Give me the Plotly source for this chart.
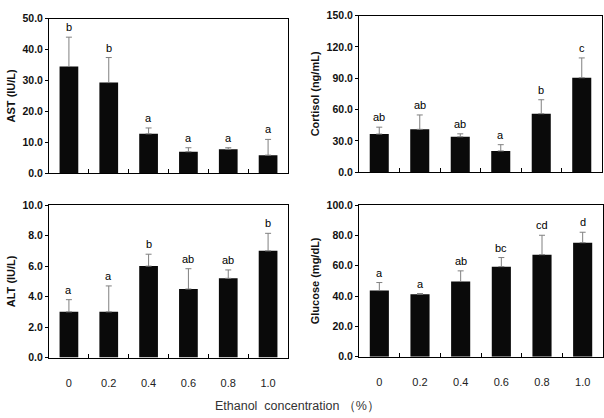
import plotly.graph_objects as go

categories = ["0", "0.2", "0.4", "0.6", "0.8", "1.0"]

ast_mean = [34.5, 29.3, 12.7, 6.9, 7.7, 5.8]
ast_err = [9.5, 8.1, 1.9, 1.3, 0.5, 5.1]
ast_letters = ["b", "b", "a", "a", "a", "a"]

cortisol_mean = [36.5, 41.0, 33.9, 20.3, 56.0, 90.5]
cortisol_err = [6.6, 13.8, 2.8, 6.0, 13.4, 19.0]
cortisol_letters = ["ab", "ab", "ab", "a", "b", "c"]

alt_mean = [3.0, 3.0, 6.0, 4.5, 5.2, 7.0]
alt_err = [0.8, 1.7, 0.78, 1.33, 0.55, 1.15]
alt_letters = ["a", "a", "b", "ab", "ab", "b"]

glucose_mean = [43.6, 41.2, 49.6, 59.4, 67.3, 75.2]
glucose_err = [5.3, 0.4, 7.0, 6.0, 12.8, 6.9]
glucose_letters = ["a", "a", "ab", "bc", "cd", "d"]

W, H = 604, 418
FONT = "Liberation Sans, Arial, sans-serif"

panels = [
    (ast_mean, ast_err, ast_letters, "AST (IU/L)", 50, 10, (49, 288, 13, 172), False),
    (cortisol_mean, cortisol_err, cortisol_letters, "Cortisol (ng/mL)", 150, 30, (359, 602, 10, 171), False),
    (alt_mean, alt_err, alt_letters, "ALT (IU/L)", 10, 2, (49, 288, 205, 362), True),
    (glucose_mean, glucose_err, glucose_letters, "Glucose (mg/dL)", 100, 20, (359, 603, 205, 361), True),
]

fig = go.Figure()
layout = {}
annotations = []
for i, (m, e, letters, title, ymax, dt, box, showx) in enumerate(panels, start=1):
    xa = "x" if i == 1 else f"x{i}"
    ya = "y" if i == 1 else f"y{i}"
    fig.add_trace(go.Bar(
        x=categories, y=m, xaxis=xa, yaxis=ya,
        marker=dict(color="#0a0a0a", line=dict(width=0)),
        width=0.47,
        error_y=dict(type="data", symmetric=False, array=e, arrayminus=[0] * len(e),
                     color="#808080", thickness=1, width=3),
        showlegend=False,
    ))
    x0, x1, y0, y1 = box
    xkey = "xaxis" if i == 1 else f"xaxis{i}"
    ykey = "yaxis" if i == 1 else f"yaxis{i}"
    layout[xkey] = dict(
        domain=[x0 / W, x1 / W], anchor=ya, type="category",
        showline=True, mirror=True, linecolor="black", linewidth=1,
        ticks="inside", tickson="boundaries", ticklen=4, tickcolor="black",
        showticklabels=showx, showgrid=False, zeroline=False,
        tickfont=dict(family=FONT, size=11, color="#222"),
        ticklabelstandoff=15,
    )
    layout[ykey] = dict(
        domain=[1 - y1 / H, 1 - y0 / H], anchor=xa,
        range=[0, ymax], dtick=dt, tick0=0, tickformat=".1f",
        showline=True, mirror=True, linecolor="black", linewidth=1,
        ticks="outside", ticklen=3, tickcolor="black",
        showgrid=False, zeroline=False,
        tickfont=dict(family=FONT, size=10.5, color="#111", weight="bold"),
        title=dict(text=title, standoff=4,
                   font=dict(family=FONT, size=11, color="#111", weight="bold")),
    )
    for j, (v, er, t) in enumerate(zip(m, e, letters)):
        annotations.append(dict(
            x=j, y=v + er, xref=xa, yref=ya, text=t, showarrow=False,
            yanchor="bottom", yshift=2,
            font=dict(family=FONT, size=11, color="black"),
        ))

annotations.append(dict(
    x=297 / W, y=1 - 412 / H, xref="paper", yref="paper",
    text="Ethanol  concentration （%）", showarrow=False,
    xanchor="center", yanchor="middle",
    font=dict(family=FONT, size=12.5, color="#333"),
))

fig.update_layout(
    width=W, height=H, autosize=False,
    margin=dict(l=0, r=0, t=0, b=0),
    paper_bgcolor="white", plot_bgcolor="white",
    annotations=annotations,
    **layout,
)
fig.write_html("out.html")
